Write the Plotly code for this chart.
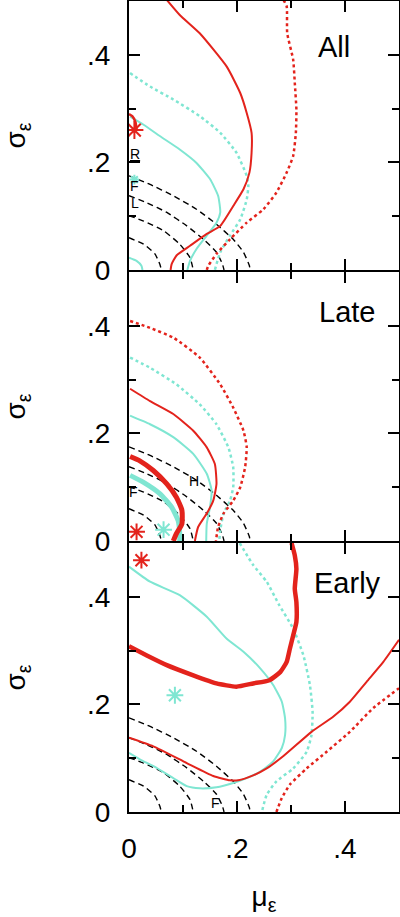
import plotly.graph_objects as go
from plotly.subplots import make_subplots

RED = "#e3231c"
CYAN = "#7fe6d2"
FONT = "Liberation Sans, Arial, sans-serif"

# ---------------- dashed reference curves (same in every panel) ----------------
dash1_x = [0.000, 0.027, 0.048, 0.057, 0.060]
dash1_y = [0.060, 0.048, 0.030, 0.011, 0.000]
dash2_x = [0.000, 0.027, 0.064, 0.094, 0.113, 0.119]
dash2_y = [0.101, 0.091, 0.073, 0.048, 0.023, 0.000]
dash3_x = [0.000, 0.033, 0.070, 0.107, 0.138, 0.162, 0.173, 0.176]
dash3_y = [0.138, 0.125, 0.107, 0.082, 0.057, 0.033, 0.011, 0.000]
dash4_x = [0.000, 0.039, 0.082, 0.125, 0.162, 0.193, 0.212, 0.223, 0.224]
dash4_y = [0.175, 0.159, 0.138, 0.113, 0.085, 0.057, 0.033, 0.008, 0.000]

# ---------------- panel "All" ----------------
all_red_solid_x = [0.070, 0.094, 0.131, 0.181, 0.206, 0.218, 0.227, 0.227, 0.223, 0.212, 0.193, 0.169, 0.144, 0.113, 0.088, 0.079, 0.077]
all_red_solid_y = [0.502, 0.474, 0.440, 0.378, 0.329, 0.292, 0.255, 0.218, 0.181, 0.150, 0.119, 0.082, 0.067, 0.045, 0.027, 0.011, 0.000]
all_red_dot_x = [0.286, 0.292, 0.293, 0.304, 0.307, 0.310, 0.309, 0.304, 0.292, 0.273, 0.249, 0.218, 0.187, 0.162, 0.147, 0.144]
all_red_dot_y = [0.502, 0.490, 0.440, 0.391, 0.348, 0.298, 0.255, 0.212, 0.181, 0.144, 0.113, 0.088, 0.057, 0.030, 0.008, 0.000]
all_cyan_solid_x = [0.002, 0.027, 0.057, 0.094, 0.125, 0.150, 0.165, 0.169, 0.162, 0.144, 0.125, 0.113, 0.108]
all_cyan_solid_y = [0.285, 0.270, 0.249, 0.224, 0.199, 0.169, 0.138, 0.107, 0.088, 0.064, 0.039, 0.017, 0.000]
all_cyan_dot_x = [0.002, 0.039, 0.082, 0.131, 0.169, 0.199, 0.218, 0.221, 0.218, 0.206, 0.187, 0.169, 0.159]
all_cyan_dot_y = [0.366, 0.341, 0.317, 0.286, 0.255, 0.218, 0.175, 0.156, 0.131, 0.094, 0.064, 0.033, 0.000]
all_cyan_small_x = [0.000, 0.014, 0.023, 0.025]
all_cyan_small_y = [0.023, 0.017, 0.008, 0.000]
all_red_small_x = [0.000, 0.006, 0.012, 0.014]
all_red_small_y = [0.290, 0.286, 0.275, 0.262]
all_red_star = (0.010, 0.260)
all_cyan_star = (0.010, 0.168)

# ---------------- panel "Late" ----------------
late_red_dot_x = [0.002, 0.039, 0.082, 0.131, 0.169, 0.193, 0.212, 0.218, 0.215, 0.206, 0.193, 0.175, 0.165, 0.161]
late_red_dot_y = [0.409, 0.396, 0.378, 0.341, 0.291, 0.248, 0.205, 0.174, 0.137, 0.100, 0.075, 0.051, 0.026, 0.000]
late_cyan_dot_x = [0.002, 0.039, 0.088, 0.131, 0.162, 0.184, 0.193, 0.193, 0.187, 0.175, 0.169, 0.167]
late_cyan_dot_y = [0.341, 0.322, 0.291, 0.254, 0.217, 0.174, 0.137, 0.100, 0.075, 0.051, 0.020, 0.000]
late_red_solid_x = [0.002, 0.039, 0.082, 0.119, 0.144, 0.159, 0.162, 0.156, 0.144, 0.128, 0.122]
late_red_solid_y = [0.283, 0.260, 0.236, 0.205, 0.174, 0.143, 0.106, 0.075, 0.051, 0.026, 0.000]
late_cyan_solid_x = [0.002, 0.039, 0.082, 0.119, 0.144, 0.153, 0.150, 0.144, 0.143]
late_cyan_solid_y = [0.233, 0.217, 0.193, 0.162, 0.125, 0.094, 0.063, 0.032, 0.000]
late_red_thick_x = [0.002, 0.020, 0.045, 0.070, 0.088, 0.098, 0.098, 0.088, 0.082]
late_red_thick_y = [0.157, 0.149, 0.131, 0.106, 0.081, 0.057, 0.032, 0.014, 0.000]
late_cyan_thick_x = [0.002, 0.027, 0.057, 0.079, 0.091, 0.094, 0.094]
late_cyan_thick_y = [0.122, 0.109, 0.088, 0.063, 0.038, 0.014, 0.000]
late_red_star = (0.014, 0.017)
late_cyan_star = (0.064, 0.021)

# ---------------- panel "Early" ----------------
early_red_thick_x = [0.301, 0.307, 0.310, 0.307, 0.310, 0.310, 0.304, 0.298, 0.292, 0.280, 0.260, 0.230, 0.199, 0.162, 0.119, 0.070, 0.033, 0.000]
early_red_thick_y = [0.500, 0.477, 0.452, 0.415, 0.390, 0.353, 0.328, 0.304, 0.279, 0.260, 0.245, 0.239, 0.233, 0.239, 0.254, 0.273, 0.291, 0.308]
early_cyan_solid_x = [0.000, 0.039, 0.094, 0.144, 0.181, 0.212, 0.243, 0.267, 0.283, 0.289, 0.289, 0.283, 0.267, 0.243, 0.218, 0.193, 0.162, 0.131, 0.107, 0.082, 0.051, 0.020, 0.000]
early_cyan_solid_y = [0.456, 0.428, 0.403, 0.363, 0.322, 0.298, 0.267, 0.236, 0.205, 0.174, 0.143, 0.119, 0.094, 0.075, 0.063, 0.054, 0.046, 0.044, 0.048, 0.063, 0.082, 0.098, 0.110]
early_red_solid_x = [0.000, 0.045, 0.107, 0.156, 0.187, 0.202, 0.230, 0.255, 0.286, 0.338, 0.378, 0.409, 0.440, 0.471, 0.500]
early_red_solid_y = [0.138, 0.122, 0.091, 0.067, 0.059, 0.059, 0.068, 0.081, 0.104, 0.149, 0.177, 0.205, 0.242, 0.279, 0.320]
early_red_dot_x = [0.273, 0.283, 0.298, 0.329, 0.366, 0.409, 0.452, 0.500]
early_red_dot_y = [0.000, 0.026, 0.051, 0.081, 0.112, 0.149, 0.193, 0.230]
early_cyan_dot_x = [0.205, 0.230, 0.255, 0.278, 0.304, 0.323, 0.335, 0.340, 0.338, 0.329, 0.304, 0.273, 0.255, 0.246]
early_cyan_dot_y = [0.500, 0.459, 0.428, 0.385, 0.341, 0.291, 0.236, 0.186, 0.143, 0.112, 0.081, 0.057, 0.032, 0.000]
early_red_star = (0.023, 0.468)
early_cyan_star = (0.085, 0.217)

x_tick_vals = [0, 0.2, 0.4]
x_tick_text = ["0", ".2", ".4"]
y_tick_vals = [0, 0.2, 0.4]
y_tick_text = ["0", ".2", ".4"]
panel_titles = ["All", "Late", "Early"]

PLOT_H = 917 - 1 - 105
fig = make_subplots(rows=3, cols=1, shared_xaxes=True, vertical_spacing=2.0 / PLOT_H)


def line(row, xs, ys, color, width, dash="solid"):
    fig.add_trace(go.Scatter(x=xs, y=ys, mode="lines", showlegend=False,
                             line=dict(color=color, width=width, dash=dash, shape="spline", smoothing=0.5),
                             hoverinfo="skip"), row=row, col=1)


def star(row, pt, color, size=13):
    fig.add_trace(go.Scatter(x=[pt[0]], y=[pt[1]], mode="markers", showlegend=False,
                             marker=dict(symbol="asterisk-open", size=size, color=color,
                                         line=dict(color=color, width=2)),
                             hoverinfo="skip"), row=row, col=1)


for r in (1, 2, 3):
    for dx, dy in ((dash1_x, dash1_y), (dash2_x, dash2_y), (dash3_x, dash3_y), (dash4_x, dash4_y)):
        line(r, dx, dy, "black", 1.4, "6px,4px")

# All
line(1, all_cyan_dot_x, all_cyan_dot_y, CYAN, 2.5, "dot")
line(1, all_red_dot_x, all_red_dot_y, RED, 2.5, "dot")
line(1, all_cyan_solid_x, all_cyan_solid_y, CYAN, 2)
line(1, all_cyan_small_x, all_cyan_small_y, CYAN, 2)
line(1, all_red_solid_x, all_red_solid_y, RED, 2)
line(1, all_red_small_x, all_red_small_y, RED, 2.5)
star(1, all_red_star, RED, 15)
star(1, all_cyan_star, CYAN, 8)

# Late
line(2, late_cyan_dot_x, late_cyan_dot_y, CYAN, 2.5, "dot")
line(2, late_red_dot_x, late_red_dot_y, RED, 2.5, "dot")
line(2, late_cyan_solid_x, late_cyan_solid_y, CYAN, 2)
line(2, late_red_solid_x, late_red_solid_y, RED, 2)
line(2, late_cyan_thick_x, late_cyan_thick_y, CYAN, 5)
line(2, late_red_thick_x, late_red_thick_y, RED, 5)
star(2, late_red_star, RED, 14)
star(2, late_cyan_star, CYAN, 14)

# Early
line(3, early_cyan_dot_x, early_cyan_dot_y, CYAN, 2.5, "dot")
line(3, early_red_dot_x, early_red_dot_y, RED, 2.5, "dot")
line(3, early_cyan_solid_x, early_cyan_solid_y, CYAN, 2)
line(3, early_red_solid_x, early_red_solid_y, RED, 2)
line(3, early_red_thick_x, early_red_thick_y, RED, 4.5)
star(3, early_red_star, RED, 14)
star(3, early_cyan_star, CYAN, 14)

axis_common = dict(range=[0, 0.5], showgrid=False, zeroline=False, showline=True,
                   linecolor="black", linewidth=2, mirror="ticks", ticks="inside",
                   ticklen=11, tickwidth=2, tickcolor="black", automargin=False,
                   minor=dict(tickvals=[0.1, 0.3, 0.5], ticks="inside", ticklen=7,
                              tickwidth=2, tickcolor="black", showgrid=False),
                   tickfont=dict(family=FONT, size=28, color="black"))

for r in (1, 2, 3):
    fig.update_xaxes(row=r, col=1, tickvals=x_tick_vals, ticktext=x_tick_text,
                     showticklabels=(r == 3), ticklabelstandoff=10, **axis_common)
    fig.update_yaxes(row=r, col=1, tickvals=y_tick_vals, ticktext=y_tick_text,
                     ticklabelstandoff=11,
                     title=dict(text="σ<sub>ε</sub>", standoff=68,
                                font=dict(family=FONT, size=28, color="black")),
                     **axis_common)

fig.update_xaxes(row=3, col=1, title=dict(text="μ<sub>ε</sub>", standoff=24,
                                          font=dict(family=FONT, size=28, color="black")))

# panel titles
title_x = [0.413, 0.459, 0.470]
title_y = [0.415, 0.425, 0.425]
for r, t, tx, ty in zip((1, 2, 3), panel_titles, title_x, title_y):
    xr = "x" if r == 1 else f"x{r}"
    yr = "y" if r == 1 else f"y{r}"
    fig.add_annotation(x=tx, y=ty, xref=xr, yref=yr, text=t, showarrow=False,
                       xanchor="right", yanchor="middle",
                       font=dict(family=FONT, size=29, color="black"))

# small letter labels
labels = [(1, 0.012, 0.215, "<u>R</u>"), (1, 0.011, 0.157, "F"), (1, 0.012, 0.125, "L"),
          (2, 0.120, 0.111, "H"), (2, 0.008, 0.091, "F"), (3, 0.161, 0.017, "F")]
for r, lx, ly, lt in labels:
    xr = "x" if r == 1 else f"x{r}"
    yr = "y" if r == 1 else f"y{r}"
    fig.add_annotation(x=lx, y=ly, xref=xr, yref=yr, text=lt, showarrow=False,
                       font=dict(family=FONT, size=14, color="black"))

fig.update_layout(width=400, height=917, margin=dict(l=129, r=1, t=1, b=105, autoexpand=False),
                  plot_bgcolor="white", paper_bgcolor="white")

fig.write_html("out.html", config={"responsive": False, "displayModeBar": False},
               post_script="document.body.style.margin='0';document.body.style.overflow='hidden';")
